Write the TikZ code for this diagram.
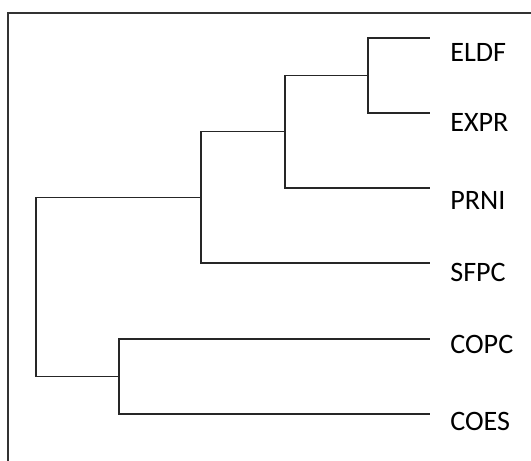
\documentclass[tikz,border=0pt]{standalone}
\usepackage{fontspec}
\setmainfont{Carlito}
\begin{document}
\begin{tikzpicture}[
    font=\fontsize{16}{19}\selectfont,
    frame/.style={draw=black!80,line width=0.85pt},
    br/.style={draw=black!85,line width=0.75pt},
    lab/.style={anchor=west,inner sep=0pt,text=black}
]
    \useasboundingbox (0,0) rectangle (10.62,-9.22);
    \draw[frame] (0.16,-9.22) -- (0.16,-0.26) -- (10.7,-0.26);

    % leaves
    \coordinate (eldf) at (8.6,-0.76);
    \coordinate (expr) at (8.6,-2.26);
    \coordinate (prni) at (8.6,-3.76);
    \coordinate (sfpc) at (8.6,-5.26);
    \coordinate (copc) at (8.6,-6.78);
    \coordinate (coes) at (8.6,-8.28);

    % joins
    \coordinate (j1) at (7.36,-1.51);
    \coordinate (j2) at (5.70,-2.635);
    \coordinate (j3) at (4.02,-3.95);
    \coordinate (j4) at (2.38,-7.53);
    \coordinate (j0) at (0.72,-5.74);

    \draw[br] (j1) |- (eldf);
    \draw[br] (j1) |- (expr);
    \draw[br] (j2) |- (j1);
    \draw[br] (j2) |- (prni);
    \draw[br] (j3) |- (j2);
    \draw[br] (j3) |- (sfpc);
    \draw[br] (j4) |- (copc);
    \draw[br] (j4) |- (coes);
    \draw[br] (j0) |- (j3);
    \draw[br] (j0) |- (j4);

    \node[lab] (teldf) at (9.0,-1.04) {ELDF};
    \node[lab] (texpr) at (9.0,-2.44) {EXPR};
    \node[lab] (tprni) at (9.0,-4.0) {PRNI};
    \node[lab] (tsfpc) at (9.0,-5.44) {SFPC};
    \node[lab] (tcopc) at (9.0,-6.88) {COPC};
    \node[lab] (tcoes) at (9.0,-8.42) {COES};
\end{tikzpicture}
\end{document}
